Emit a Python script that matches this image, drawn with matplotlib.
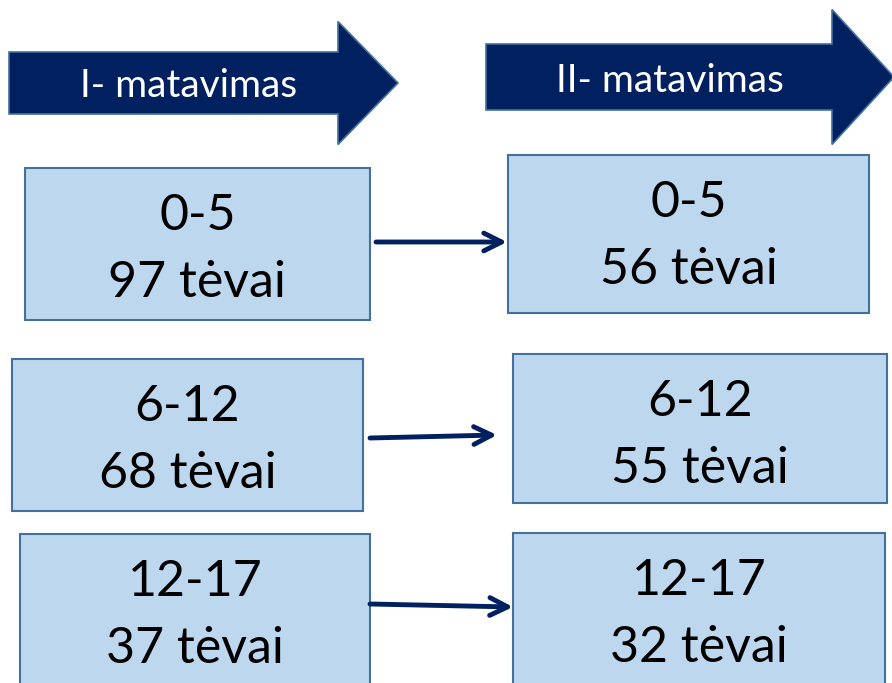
import matplotlib
matplotlib.use("Agg")
import matplotlib.pyplot as plt
from matplotlib.patches import Rectangle, FancyArrow

# data
phase_labels = ["I- matavimas", "II- matavimas"]
age_groups = ["0-5", "6-12", "12-17"]
parents_first = [97, 68, 37]
parents_second = [56, 55, 32]
unit = "tėvai"

# layout (pixels, origin top-left)
left_boxes = [(25, 168, 345, 152), (12, 359, 351, 152), (20, 534, 350, 160)]
right_boxes = [(508, 155, 361, 158), (513, 354, 374, 149), (513, 533, 372, 160)]
links = [((376, 242), (507, 242)), ((370, 438), (497, 435)), ((370, 604), (513, 607))]
headers = [(9, 83, 389, 62, 123, 60, 189, 97),
           (486, 77, 408, 66, 135, 62, 670, 92)]

navy = "#002060"
edge = "#41719C"
fill = "#BDD7EE"

plt.rcParams['font.family'] = ['Lato', 'DejaVu Sans']

fig = plt.figure(figsize=(8.92, 6.83), dpi=100)
ax = fig.add_axes([0, 0, 1, 1])
ax.set_xlim(0, 892)
ax.set_ylim(683, 0)
ax.axis('off')

for (x, y, dx, w, hw, hl, tx, ty), label in zip(headers, phase_labels):
    ax.add_patch(FancyArrow(x, y, dx, 0, width=w, head_width=hw, head_length=hl,
                            length_includes_head=True, facecolor=navy,
                            edgecolor=edge, lw=1.2))
    ax.text(tx, ty, label, color='white', fontsize=28, ha='center', va='baseline')


def draw_box(box, group, count):
    x, y, w, h = box
    ax.add_patch(Rectangle((x, y), w, h, facecolor=fill, edgecolor=edge, lw=1.5))
    cx = x + w / 2
    ax.text(cx, y + 62, group, fontsize=36, ha='center', va='baseline', color='black')
    ax.text(cx, y + 129, "{} {}".format(count, unit), fontsize=36,
            ha='center', va='baseline', color='black')


for i, group in enumerate(age_groups):
    draw_box(left_boxes[i], group, parents_first[i])
    draw_box(right_boxes[i], group, parents_second[i])
    start, end = links[i]
    ax.annotate('', xy=end, xytext=start,
                arrowprops=dict(arrowstyle='->', lw=3.5, color=navy,
                                mutation_scale=32, shrinkA=0, shrinkB=0))

fig.savefig("out.png", dpi=100)
